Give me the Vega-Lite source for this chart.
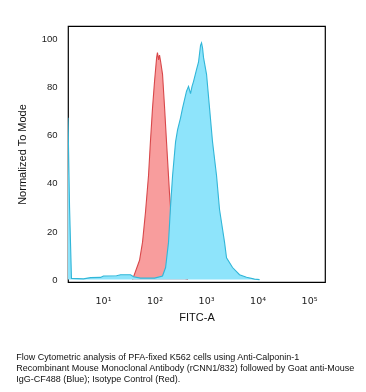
{
  "$schema": "https://vega.github.io/schema/vega-lite/v6.json",
  "width": 257,
  "height": 256,
  "autosize": "none",
  "padding": {"left": 68, "top": 26, "right": 41, "bottom": 110},
  "background": "white",
  "config": {
    "view": {"stroke": "#000000", "strokeWidth": 1.2},
    "font": "Liberation Sans"
  },
  "title": {
    "text": [
      "Flow Cytometric analysis of PFA-fixed K562 cells using Anti-Calponin-1",
      "Recombinant Mouse Monoclonal Antibody (rCNN1/832) followed by Goat anti-Mouse",
      "IgG-CF488 (Blue); Isotype Control (Red)."
    ],
    "orient": "bottom",
    "anchor": "start",
    "frame": "bounds",
    "fontSize": 9,
    "fontWeight": "normal",
    "font": "Liberation Sans",
    "color": "#111111",
    "lineHeight": 11,
    "offset": 30
  },
  "datasets": {
    "red": [
      {"x": 37.4, "v": 0}, {"x": 51.2, "v": 8}, {"x": 58.5, "v": 15.5}, {"x": 66.8, "v": 28},
      {"x": 76.4, "v": 43}, {"x": 83.2, "v": 57}, {"x": 91.4, "v": 71}, {"x": 100, "v": 82},
      {"x": 110, "v": 92}, {"x": 114, "v": 94}, {"x": 120, "v": 91}, {"x": 125, "v": 93},
      {"x": 132, "v": 90}, {"x": 143, "v": 85}, {"x": 156, "v": 72}, {"x": 171, "v": 57},
      {"x": 195, "v": 36}, {"x": 224, "v": 18}, {"x": 257, "v": 8}, {"x": 305, "v": 3},
      {"x": 380, "v": 0.5}, {"x": 447, "v": 0}
    ],
    "blue": [
      {"x": 2.09, "v": 67}, {"x": 2.24, "v": 30}, {"x": 2.44, "v": 0.5}, {"x": 4.18, "v": 0.3},
      {"x": 5.71, "v": 0.8}, {"x": 8.93, "v": 0.9}, {"x": 10.2, "v": 1.5}, {"x": 18.3, "v": 1.6},
      {"x": 21.9, "v": 2}, {"x": 34.2, "v": 2}, {"x": 39.1, "v": 1.2}, {"x": 53.5, "v": 0.6},
      {"x": 100, "v": 0.6}, {"x": 143, "v": 1.5}, {"x": 164, "v": 5}, {"x": 187, "v": 15.5},
      {"x": 204, "v": 30}, {"x": 224, "v": 43}, {"x": 256, "v": 57}, {"x": 280, "v": 62},
      {"x": 320, "v": 67}, {"x": 350, "v": 71}, {"x": 418, "v": 78}, {"x": 457, "v": 80},
      {"x": 500, "v": 77}, {"x": 535, "v": 80}, {"x": 571, "v": 82}, {"x": 655, "v": 87},
      {"x": 714, "v": 90}, {"x": 782, "v": 97}, {"x": 818, "v": 98}, {"x": 855, "v": 96},
      {"x": 893, "v": 92}, {"x": 1023, "v": 85}, {"x": 1170, "v": 71}, {"x": 1337, "v": 57},
      {"x": 1600, "v": 43}, {"x": 1828, "v": 29}, {"x": 2286, "v": 15.5}, {"x": 2500, "v": 9},
      {"x": 3273, "v": 5}, {"x": 4467, "v": 2}, {"x": 6109, "v": 1}, {"x": 8750, "v": 0.2},
      {"x": 10965, "v": 0}
    ]
  },
  "encoding": {
    "x": {
      "field": "x",
      "type": "quantitative",
      "scale": {"type": "log", "domain": [2.09, 204000], "nice": false},
      "axis": {
        "title": "FITC-A",
        "titleFontSize": 11,
        "titleFontWeight": "normal",
        "titleColor": "#111111",
        "titlePadding": 7,
        "values": [10, 100, 1000, 10000, 100000],
        "labelExpr": "datum.value < 50 ? '10¹' : datum.value < 500 ? '10²' : datum.value < 5000 ? '10³' : datum.value < 50000 ? '10⁴' : '10⁵'",
        "labelFont": "DejaVu Sans",
        "labelFontSize": 9.5,
        "labelColor": "#222222",
        "labelPadding": 13,
        "ticks": false,
        "domain": false,
        "grid": false
      }
    },
    "y": {
      "field": "v",
      "type": "quantitative",
      "scale": {"domain": [-1, 105], "nice": false, "zero": false},
      "axis": {
        "title": "Normalized To Mode",
        "titleFontSize": 11,
        "titleFontWeight": "normal",
        "titleColor": "#111111",
        "titlePadding": 14,
        "values": [0, 20, 40, 60, 80, 100],
        "labelFontSize": 9.5,
        "labelColor": "#222222",
        "labelPadding": 11,
        "ticks": false,
        "domain": false,
        "grid": false
      }
    }
  },
  "layer": [
    {
      "data": {"name": "red"},
      "mark": {
        "type": "area",
        "color": "#f89d9d",
        "opacity": 1,
        "fillOpacity": 1,
        "clip": true,
        "line": {"color": "#d8474a", "strokeWidth": 1.1}
      }
    },
    {
      "data": {"name": "blue"},
      "mark": {
        "type": "area",
        "color": "#8ee4fb",
        "opacity": 1,
        "fillOpacity": 1,
        "clip": true,
        "blend": "multiply",
        "line": {"color": "#31b6d8", "strokeWidth": 1.1}
      }
    }
  ]
}
